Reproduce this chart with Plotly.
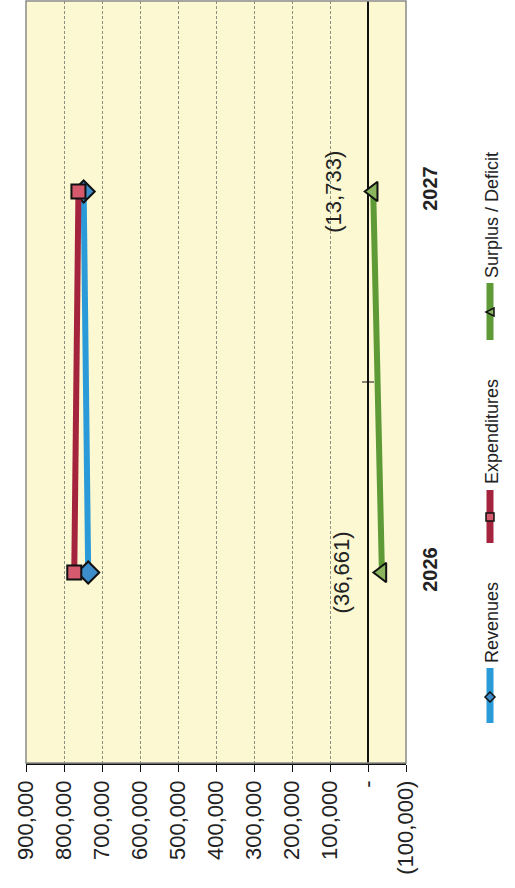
import plotly.graph_objects as go

years = ["2026", "2027"]
revenues = [736339, 748267]
expenditures = [773000, 762000]
surplus = [-36661, -13733]
surplus_labels = ["(36,661)", "(13,733)"]
tick_vals = [900000, 800000, 700000, 600000, 500000, 400000, 300000, 200000, 100000, 0, -100000]
tick_text = ["900,000", "800,000", "700,000", "600,000", "500,000", "400,000",
             "300,000", "200,000", "100,000", "-", "(100,000)"]
series_names = ["Revenues", "Expenditures", "Surplus / Deficit"]

W, H = 515, 888
L, R, T, B = 26, 406, 1, 763
FONT = "Liberation Sans, Arial, sans-serif"


def px(xp):
    return (xp - L) / (R - L)


def py(yp):
    return (B - yp) / (B - T)


fig = go.Figure()

styles = [
    dict(line="#2B9AD9", fill="#3E8DCB", symbol="diamond", size=17),
    dict(line="#A3243C", fill="#D65A6E", symbol="square", size=14),
    dict(line="#5E9A35", fill="#8AB55E", symbol="triangle-left", size=17),
]
for name, vals, st in zip(series_names, [revenues, expenditures, surplus], styles):
    fig.add_trace(go.Scatter(
        x=vals, y=years, mode="lines+markers", name=name, showlegend=False,
        line=dict(color=st["line"], width=6),
        marker=dict(symbol=st["symbol"], size=st["size"], color=st["fill"],
                    line=dict(color="#111111", width=2)),
        cliponaxis=False, hoverinfo="skip",
    ))

# data labels for surplus / deficit
for i, (v, lab) in enumerate(zip(surplus, surplus_labels)):
    fig.add_annotation(x=v, y=i, xref="x", yref="y", text=lab, showarrow=False,
                       textangle=-90, xshift=-40, xanchor="center", yanchor="middle",
                       font=dict(family=FONT, size=22, color="#222222"))

shapes = []
# plot border
shapes.append(dict(type="rect", xref="paper", yref="paper", x0=0, x1=1, y0=0, y1=1,
                   line=dict(color="#8A8A8A", width=1.5), layer="above"))
# category divider tick on the zero axis
shapes.append(dict(type="line", xref="x", yref="y", xsizemode="pixel", xanchor=0,
                   x0=-6, x1=6, y0=0.5, y1=0.5, line=dict(color="#111111", width=1)))

# manual rotated legend
legend_items = [
    # (text center y, line y0, line y1, marker y)
    (623, 668, 723, 697),
    (432, 490, 543, 517),
    (215, 283, 340, 312),
]
lx = 490
for (tc, l0, l1, my), name, st in zip(legend_items, series_names, styles):
    shapes.append(dict(type="line", xref="paper", yref="paper",
                       x0=px(lx), x1=px(lx), y0=py(l0), y1=py(l1),
                       line=dict(color=st["line"], width=7)))
    if st["symbol"] == "diamond":
        path = "M0,-5 L5,0 L0,5 L-5,0 Z"
    elif st["symbol"] == "square":
        path = "M-4,-4 L4,-4 L4,4 L-4,4 Z"
    else:
        path = "M-4,0 L4,-4 L4,4 Z"
    shapes.append(dict(type="path", xref="paper", yref="paper",
                       xsizemode="pixel", ysizemode="pixel",
                       xanchor=px(lx), yanchor=py(my), path=path,
                       fillcolor=st["fill"], line=dict(color="#111111", width=1.5)))
    fig.add_annotation(x=px(lx + 2), y=py(tc), xref="paper", yref="paper", text=name,
                       showarrow=False, textangle=-90, xanchor="center", yanchor="middle",
                       font=dict(family=FONT, size=18, color="#222222"))

fig.update_layout(
    width=W, height=H,
    margin=dict(l=L, r=W - R, t=T, b=H - B, autoexpand=False),
    paper_bgcolor="white",
    plot_bgcolor="#FBF8D2",
    shapes=shapes,
    hovermode=False,
    font=dict(family=FONT, color="#222222"),
    xaxis=dict(
        range=[900000, -100000], automargin=False, fixedrange=True,
        tickvals=tick_vals, ticktext=tick_text, tickangle=-90,
        tickfont=dict(family=FONT, size=22, color="#222222"),
        ticks="outside", ticklen=7, tickcolor="#111111", tickwidth=1.2,
        showline=True, linecolor="#111111", linewidth=1.5,
        showgrid=True, gridcolor="#8E8E80", griddash="3px,2px", gridwidth=1,
        zeroline=True, zerolinecolor="#111111", zerolinewidth=1.5,
    ),
    yaxis=dict(
        type="category", categoryorder="array", categoryarray=years,
        range=[-0.5, 1.5], side="right", tickangle=-90, automargin=False,
        fixedrange=True,
        tickfont=dict(family=FONT, size=20, color="#222222", weight="bold"),
        ticks="", ticklabelstandoff=10, showgrid=False, zeroline=False, showline=False,
    ),
)

fig.write_html("out.html", config={"displayModeBar": False},
               post_script="document.body.style.margin='0';document.body.style.overflow='hidden';")
